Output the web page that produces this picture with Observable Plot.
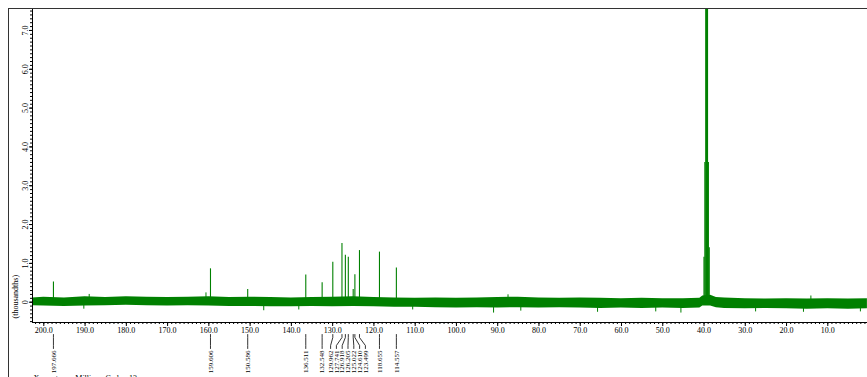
<!DOCTYPE html>
<html><head><meta charset="utf-8">
<script src="https://cdn.jsdelivr.net/npm/d3@7"></script>
<script src="https://cdn.jsdelivr.net/npm/@observablehq/plot@0.6"></script>
<style>
html,body{margin:0;padding:0;background:#fff;overflow:hidden;width:867px;height:377px}
#wrap{position:relative;width:867px;height:377px;overflow:hidden}
#frame{position:absolute;left:8px;top:8px;width:1000px;height:500px;border:1px solid #333;pointer-events:none}
</style></head><body><div id="wrap"><div id="chart"></div><div id="frame"></div></div>
<script>
// ---- data ----
const peakPpm    = [197.666,159.606,150.586,136.511,132.548,129.962,127.741,126.918,126.205,125.022,124.610,123.499,118.655,114.557];
const peakHeight = [0.52,   0.86,   0.33,   0.70,   0.50,   1.03,   1.51,   1.21,   1.16,   0.33,   0.71,   1.33,   1.29,   0.88];

const solventPpm    = [40.0, 39.79, 39.58, 39.37, 39.16, 38.95, 38.74];
const solventHeight = [1.16, 3.6,   8.5,   11,    8.5,   3.6,   1.4];

const noisePpm = [202.7,200,195,190,185,180,175,170,165,160,155,150,145,140,135,130,125,120,115,110,105,100,95,90,85,80,75,70,65,60,55,50,45,41,40.3,38.4,37,35,30,25,20,15,10,5,0.4];
const noiseHi  = [0.11,0.13,0.11,0.14,0.12,0.14,0.13,0.12,0.13,0.14,0.12,0.13,0.12,0.11,0.12,0.13,0.14,0.12,0.11,0.10,0.11,0.10,0.11,0.12,0.13,0.11,0.10,0.11,0.10,0.09,0.10,0.09,0.09,0.10,0.16,0.18,0.12,0.11,0.09,0.08,0.09,0.08,0.09,0.08,0.09];
const noiseLo  = [-0.09,-0.10,-0.11,-0.10,-0.09,-0.08,-0.09,-0.10,-0.09,-0.10,-0.11,-0.11,-0.12,-0.12,-0.11,-0.12,-0.11,-0.12,-0.13,-0.13,-0.14,-0.15,-0.14,-0.15,-0.14,-0.15,-0.14,-0.15,-0.16,-0.15,-0.16,-0.15,-0.16,-0.15,-0.10,-0.10,-0.14,-0.16,-0.17,-0.16,-0.17,-0.18,-0.17,-0.18,-0.17];

const spikePpm = [189.0,190.3,160.7,146.7,138.2,110.6,91.0,87.5,84.4,65.8,51.7,45.6,27.5,15.9,14.1,2.1];
const spikeVal = [0.20,-0.18,0.24,-0.22,-0.20,-0.20,-0.28,0.19,-0.23,-0.26,-0.25,-0.28,-0.25,-0.26,0.16,-0.25];

const xTickValues = d3.range(10, 201, 10);
const yTickValues = d3.range(0, 8, 1);
const xTitle = "X : parts per Million : Carbon13";
const yTitle = "(thousandths)";

// ---- build tables ----
const green = "#008000";
const xDomain = [202.74, 0.38];
const yDomain = [-0.523, 7.54];
const W = 867, H = 377, mL = 32, mR = 0, mT = 9, mB = 55;
const yPix = d3.scaleLinear().domain(yDomain).range([H - mB, mT]);
const yAt = px => yPix.invert(px);
const xPix = d3.scaleLinear().domain(xDomain).range([mL, W - mR]);

const peaks = peakPpm.map((p, i) => ({ppm: p, h: peakHeight[i]}));
const solvent = solventPpm.map((p, i) => ({ppm: p, h: solventHeight[i]}));
const noise = noisePpm.map((p, i) => ({ppm: p, hi: noiseHi[i], lo: noiseLo[i]}));
const spikes = spikePpm.map((p, i) => ({ppm: p, v: spikeVal[i]}));

// label layout: spread overlapping labels (in ppm units)
const gap = 5.8 / Math.abs(xPix(0) - xPix(1));
let groups = [...peakPpm].sort((a, b) => b - a).map(p => ({members: [p], start: p}));
let changed = true;
while (changed) {
  changed = false;
  for (let i = 0; i < groups.length - 1; i++) {
    const a = groups[i], b = groups[i + 1];
    const aEnd = a.start - (a.members.length - 1) * gap;
    if (aEnd - b.start < gap) {
      const members = a.members.concat(b.members);
      const m = d3.mean(members);
      groups.splice(i, 2, {members, start: m + (members.length - 1) * gap / 2});
      changed = true;
      break;
    }
  }
}
const labels = [];
groups.forEach(g => g.members.forEach((p, k) => labels.push({ppm: p, pos: g.start - k * gap, text: p.toFixed(3)})));
const leaders = labels.flatMap((l, i) => [
  {id: i, x: l.ppm, y: yAt(334)},
  {id: i, x: l.ppm, y: yAt(337)},
  {id: i, x: l.pos, y: yAt(345)},
  {id: i, x: l.pos, y: yAt(348)}
]);

const chart = Plot.plot({
  width: W, height: H,
  marginLeft: mL, marginRight: mR, marginTop: mT, marginBottom: mB,
  x: {domain: xDomain, range: [mL, W - mR]},
  y: {domain: yDomain, range: [H - mB, mT]},
  style: {fontFamily: "'Liberation Serif', 'DejaVu Serif', serif", fontSize: "8px", background: "transparent", color: "#000"},
  marks: [
    Plot.areaY(noise, {x: "ppm", y1: "lo", y2: "hi", fill: green}),
    Plot.ruleX(spikes, {x: "ppm", y1: 0, y2: "v", stroke: green, strokeWidth: 1}),
    Plot.ruleX(peaks, {x: "ppm", y1: 0, y2: "h", stroke: green, strokeWidth: 1.1}),
    Plot.ruleX(solvent, {x: "ppm", y1: 0, y2: "h", stroke: green, strokeWidth: 1.2, clip: true}),
    // axes lines
    Plot.ruleX([xDomain[0]], {stroke: "#000", strokeWidth: 1}),
    Plot.ruleY([yDomain[0]], {stroke: "#000", strokeWidth: 1}),
    // x axis
    Plot.axisX({ticks: d3.range(1, 203, 1), tickSize: 2, tickFormat: () => "", label: null, anchor: "bottom"}),
    Plot.axisX({ticks: xTickValues, tickSize: 4, tickPadding: 1, tickFormat: d => d.toFixed(1), label: null, anchor: "bottom", fontSize: 8}),
    // y axis
    Plot.axisY({ticks: d3.range(-5, 76, 1).map(d => d / 10), tickSize: 2, tickFormat: () => "", label: null, anchor: "left"}),
    Plot.axisY({ticks: yTickValues, tickSize: 3, tickFormat: () => "", label: null, anchor: "left"}),
    Plot.text(yTickValues, {frameAnchor: "left", y: d => d, text: d => d === 0 ? "0" : d.toFixed(1), rotate: -90, textAnchor: "middle", lineAnchor: "bottom", dx: -5, fontSize: 8}),
    Plot.text([yTitle], {frameAnchor: "bottom-left", text: d => d, rotate: -90, textAnchor: "start", lineAnchor: "middle", dx: -17, dy: -4, fontSize: 8}),
    // peak labels
    Plot.line(leaders, {x: "x", y: "y", z: "id", stroke: "#000", strokeWidth: 0.8}),
    Plot.text(labels, {x: "pos", y: () => yAt(350), text: "text", rotate: -90, textAnchor: "end", lineAnchor: "middle", fontSize: 7}),
    Plot.text([xTitle], {frameAnchor: "bottom-left", text: d => d, textAnchor: "start", lineAnchor: "top", dx: 1, dy: 53, fontSize: 8})
  ]
});
document.getElementById("chart").appendChild(chart);
</script></body></html>
